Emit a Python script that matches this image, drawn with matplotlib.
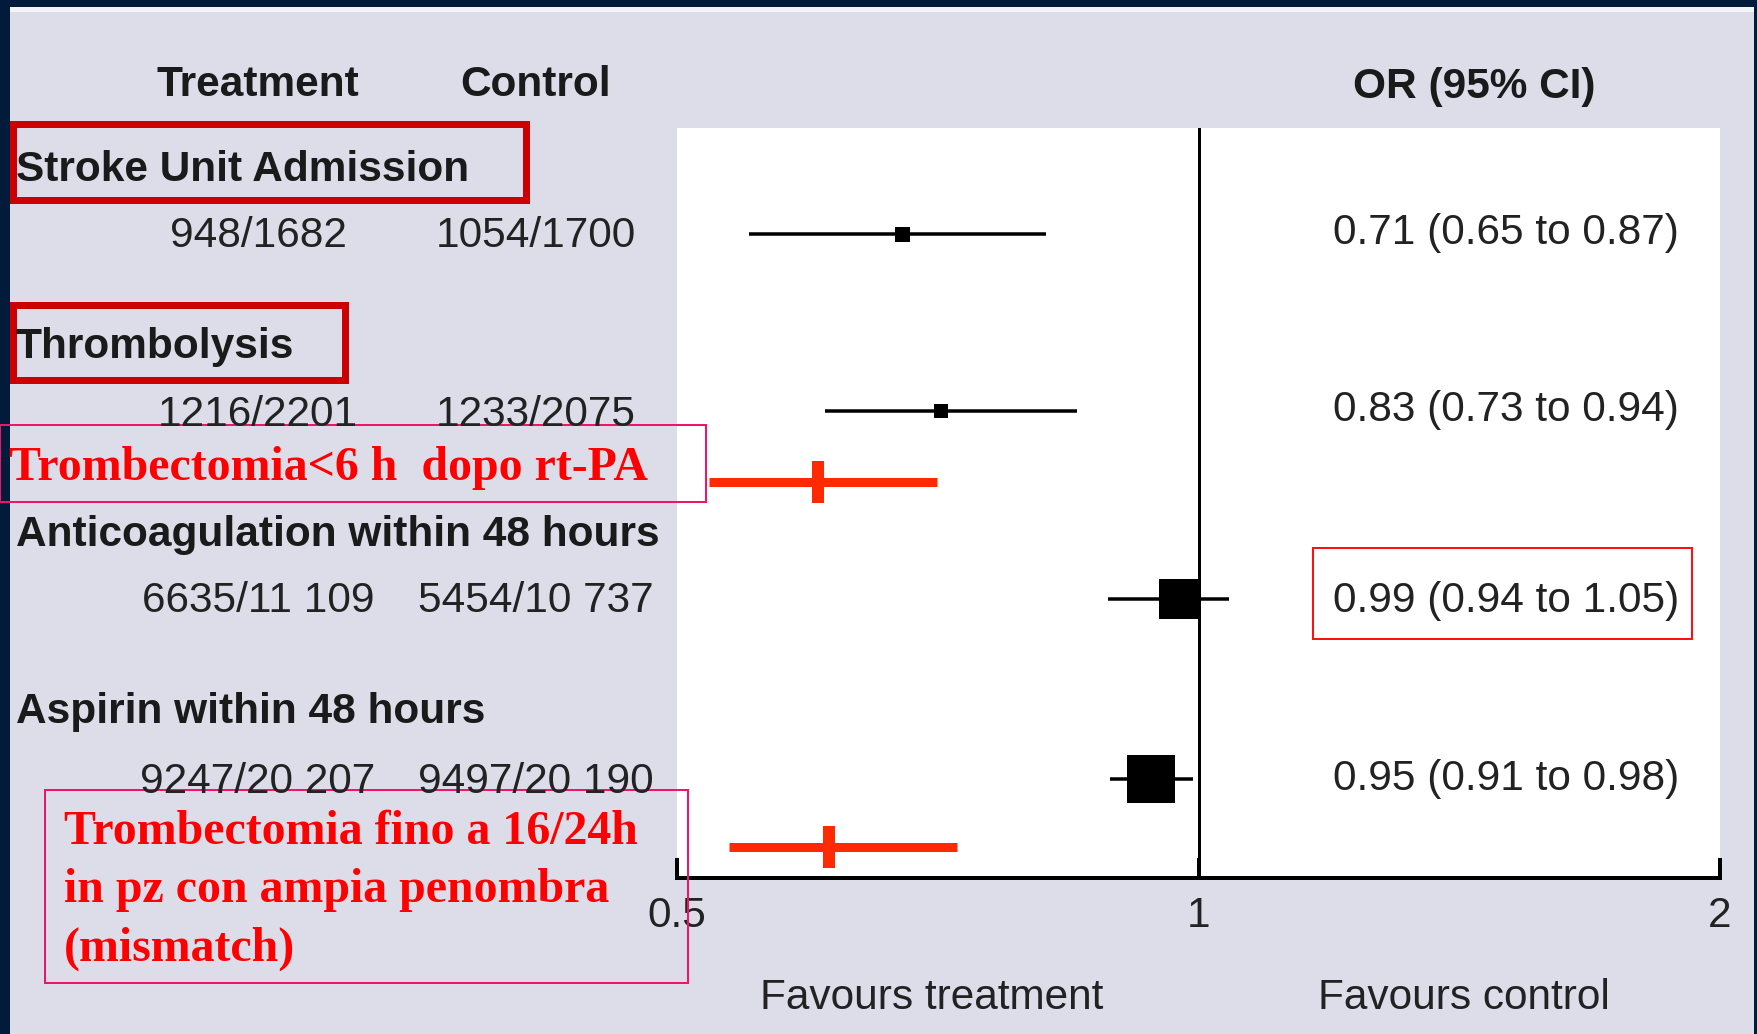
import matplotlib
matplotlib.use("Agg")
import matplotlib.pyplot as plt
from matplotlib.patches import Rectangle
from matplotlib.ticker import NullLocator, NullFormatter

# ---------------- data ----------------
groups = ["Stroke Unit Admission", "Thrombolysis",
          "Anticoagulation within 48 hours", "Aspirin within 48 hours"]
treatment_counts = ["948/1682", "1216/2201", "6635/11 109", "9247/20 207"]
control_counts = ["1054/1700", "1233/2075", "5454/10 737", "9497/20 190"]
or_labels = ["0.71 (0.65 to 0.87)", "0.83 (0.73 to 0.94)",
             "0.99 (0.94 to 1.05)", "0.95 (0.91 to 0.98)"]
# positions of the marks as drawn on the picture
or_point = [0.674, 0.710, 0.974, 0.939]
ci_low = [0.550, 0.609, 0.887, 0.889]
ci_high = [0.817, 0.851, 1.041, 0.993]

# red annotations (thrombectomy)
thromb_labels = ["Trombectomia<6 h  dopo rt-PA",
                 "Trombectomia fino a 16/24h\nin pz con ampia penombra\n(mismatch)"]
thromb_point = [0.603, 0.612]
thromb_low = [0.522, 0.536]
thromb_high = [0.706, 0.725]

x_ticks = [0.5, 1, 2]
x_tick_labels = ["0.5", "1", "2"]
headers = ["Treatment", "Control", "OR (95% CI)"]
favours = ["Favours treatment", "Favours control"]

# ---------------- layout / style ----------------
W, H = 1758, 1034
NAVY = "#021B3B"
LAV = "#DDDDEA"
SANS = ["Liberation Sans", "DejaVu Sans"]
SERIF = ["Liberation Serif", "DejaVu Serif"]
FS = 30.5
RED_FS = 34.5

row_y = [234, 411, 599, 779]          # pixel rows of the estimates
label_base = [181, 358, 546, 723]     # baselines of group labels
count_base = [247, 426, 612, 793]     # baselines of counts
or_base = [244, 421, 612, 790]
thromb_y = [482, 847]
marker_px = [15, 14, 40, 48]

PX = 0.72  # points per pixel at dpi 100

fig = plt.figure(figsize=(W / 100, H / 100), dpi=100)
fig.patch.set_facecolor(NAVY)
fig.add_artist(Rectangle((10 / W, 0), (1754 - 10) / W, (H - 7) / H,
                         transform=fig.transFigure, facecolor=LAV,
                         edgecolor="none", zorder=-10))
fig.add_artist(Rectangle((10 / W, 1 - 12 / H), (1754 - 10) / W, 5 / H,
                         transform=fig.transFigure, facecolor="#F4F4F8",
                         edgecolor="none", zorder=-9))

# ---------------- forest plot axes ----------------
ax_left, ax_right, ax_top, ax_bot = 677, 1720, 128, 878
ax = fig.add_axes([ax_left / W, 1 - ax_bot / H, (ax_right - ax_left) / W,
                   (ax_bot - ax_top) / H], zorder=1)
ax.set_facecolor("white")
ax.set_xscale("log")
ax.set_xlim(0.5, 2)
ax.set_ylim(ax_bot, ax_top)
for s in ["top", "left", "right"]:
    ax.spines[s].set_visible(False)
ax.spines["bottom"].set_linewidth(4 * PX)
ax.set_yticks([])
ax.set_xticks(x_ticks, labels=x_tick_labels)
ax.xaxis.set_minor_locator(NullLocator())
ax.xaxis.set_minor_formatter(NullFormatter())
ax.tick_params(axis="x", direction="in", length=20 * PX, width=4 * PX,
               labelsize=FS, pad=13, colors="black")
for lab in ax.get_xticklabels():
    lab.set_family(SANS)
    lab.set_color("#222222")

ax.axvline(1, color="black", lw=3 * PX, zorder=2)

ax.hlines(row_y, ci_low, ci_high, color="black", lw=3.5 * PX, zorder=3)
for x, y, m in zip(or_point, row_y, marker_px):
    ax.plot([x], [y], marker="s", ms=m * PX, color="black", mew=0, zorder=4)

RED_LINE = "#FF2A00"
ax.hlines(thromb_y, thromb_low, thromb_high, color=RED_LINE, lw=9 * PX,
          zorder=3, clip_on=False)
for x, y in zip(thromb_point, thromb_y):
    ax.vlines(x, y - 21, y + 21, color=RED_LINE, lw=12 * PX, zorder=3,
              clip_on=False)

# ---------------- overlay for texts and boxes ----------------
ov = fig.add_axes([0, 0, 1, 1], zorder=3)
ov.set_xlim(0, W)
ov.set_ylim(H, 0)
ov.axis("off")
ov.patch.set_alpha(0)

TXT = "#1A1A1A"
col_x = [258, 536]
ov.text(col_x[0], 96, headers[0], ha="center", va="baseline", fontsize=FS,
        fontweight="bold", family=SANS, color=TXT)
ov.text(col_x[1], 96, headers[1], ha="center", va="baseline", fontsize=FS,
        fontweight="bold", family=SANS, color=TXT)
ov.text(1474, 98, headers[2], ha="center", va="baseline", fontsize=FS,
        fontweight="bold", family=SANS, color=TXT)

for i in range(len(groups)):
    ov.text(16, label_base[i], groups[i], ha="left", va="baseline",
            fontsize=FS, fontweight="bold", family=SANS, color=TXT)
    ov.text(col_x[0], count_base[i], treatment_counts[i], ha="center",
            va="baseline", fontsize=FS, family=SANS, color="#222222")
    ov.text(col_x[1], count_base[i], control_counts[i], ha="center",
            va="baseline", fontsize=FS, family=SANS, color="#222222")
    ov.text(1506, or_base[i], or_labels[i], ha="center", va="baseline",
            fontsize=FS, family=SANS, color="#222222")

ov.text(932, 1009, favours[0], ha="center", va="baseline", fontsize=FS,
        family=SANS, color="#222222")
ov.text(1464, 1009, favours[1], ha="center", va="baseline", fontsize=FS,
        family=SANS, color="#222222")

# red annotation texts
RED_TXT = "#FF0000"
ov.text(9, 480, thromb_labels[0], ha="left", va="baseline", fontsize=RED_FS,
        fontweight="bold", family=SERIF, color=RED_TXT)
for line, yb in zip(thromb_labels[1].split("\n"), [844, 902, 961]):
    ov.text(64, yb, line, ha="left", va="baseline", fontsize=RED_FS,
            fontweight="bold", family=SERIF, color=RED_TXT)

# boxes
def box(x0, y0, x1, y1, color, lw):
    ov.add_patch(Rectangle((x0, y0), x1 - x0, y1 - y0, fill=False,
                           edgecolor=color, lw=lw * PX, joinstyle="miter"))

box(13, 124, 526, 200, "#CC0000", 7)
box(13, 305, 345, 380, "#CC0000", 7)
box(0, 425, 706, 502, "#F0146A", 2)
box(45, 790, 688, 983, "#F0146A", 2)
box(1313, 548, 1692, 639, "#FF1010", 2)

fig.savefig("out.png", dpi=100, facecolor=fig.get_facecolor())
